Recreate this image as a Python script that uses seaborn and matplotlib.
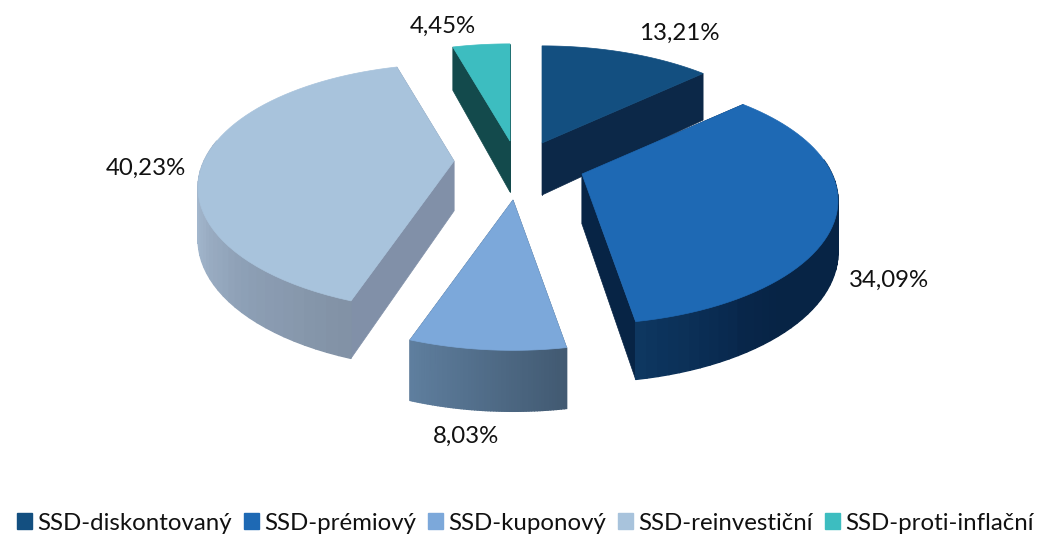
"""Exploded 3D pie of SSD bond types
"""

import numpy as np
import matplotlib.pyplot as plt
from matplotlib.patches import Patch
import seaborn as sns

# Chart data
categories = ["SSD-diskontovaný", "SSD-prémiový", "SSD-kuponový", "SSD-reinvestiční", "SSD-proti-inflační"]
shares = [13.21, 34.09, 8.03, 40.23, 4.45]
share_labels = ["13,21%", "34,09%", "8,03%", "40,23%", "4,45%"]

# Styles, one per slice
top_colors = ["#134f80", "#1e69b4", "#7ca8da", "#a8c3dc", "#3dbdc0"]
wall_stops = [
    ["#0c2848", "#0c2848"],
    ["#0e3862", "#08264a", "#072445", "#072445", "#072445", "#072445"],
    ["#5f7f9f", "#425a72"],
    ["#a6bad0", "#8d9fb5", "#7f8fa2"],
    ["#134a4c", "#134a4c"],
]
cut_colors = ["#0c2848", "#072445", "#425a72", "#8190a8", "#134a4c"]
apex_x = [542, 582, 513, 454, 510]
apex_y = [143, 174, 200, 161, 141]
wall_base = [52, 50, 53, 50, 51]
label_x = [679, 889, 466, 146, 443]
label_y = [33, 280, 436, 168, 26]
draw_order = [4, 0, 3, 1, 2]

# Perspective of the disk
RX, RY, PERSP = 250, 118, 0.215
WALL_DEPTH = 8

sns.set_theme(style="white")
plt.rcParams["font.family"] = ["Lato", "DejaVu Sans"]

fig = plt.figure(figsize=(10.37, 5.36), dpi=100)
ax = fig.add_axes([0, 0, 1, 1])
ax.set_xlim(0, 1037)
ax.set_ylim(536, 0)
ax.axis("off")


def project(angle):
    # angle clockwise from 12 o'clock, returns offset from the apex
    den = 1 + PERSP * np.cos(angle)
    return RX * np.sin(angle) / den, -RY * np.cos(angle) / den


edges = np.deg2rad(np.concatenate([[0], np.cumsum(shares)]) * 360 / sum(shares))

for i in draw_order:
    a0, a1 = edges[i], edges[i + 1]
    px, py = apex_x[i], apex_y[i]
    angles = np.linspace(a0, a1, 60)
    dx, dy = project(angles)
    xs, ys = px + dx, py + dy
    hs = wall_base[i] - WALL_DEPTH * np.cos(angles)

    # Radial cut faces
    for x, y, h in [(xs[0], ys[0], hs[0]), (xs[-1], ys[-1], hs[-1])]:
        ax.fill(
            [px, x, x, px],
            [py, y, y + h, py + wall_base[i]],
            color=cut_colors[i],
            lw=0.5,
        )

    # Outer wall with a left to right shade
    front = np.cos(angles) < 0.15 if i not in (0, 4) else np.zeros(len(angles), bool)
    shades = sns.blend_palette(wall_stops[i], n_colors=len(angles))
    for rank, k in enumerate(np.argsort(xs)):
        if k + 1 >= len(xs) or not front[k]:
            continue
        ax.fill(
            [xs[k], xs[k + 1], xs[k + 1], xs[k]],
            [ys[k], ys[k + 1], ys[k + 1] + hs[k + 1], ys[k] + hs[k]],
            color=shades[rank],
            lw=1.0,
        )

    # Top face
    ax.fill(np.r_[px, xs], np.r_[py, ys], color=top_colors[i], lw=0.5)

for x, y, text in zip(label_x, label_y, share_labels):
    ax.text(x, y, text, ha="center", va="center", fontsize=17.3, color="#111111")

handles = [Patch(color=c, label=name) for c, name in zip(top_colors, categories)]
ax.legend(
    handles=handles,
    loc="center",
    bbox_to_anchor=(0.5065, 0.024),
    ncol=5,
    frameon=False,
    fontsize=17.3,
    handlelength=0.62,
    handleheight=0.62,
    handletextpad=0.22,
    columnspacing=0.5,
    labelcolor="#111111",
)

plt.savefig("out.png", dpi=100)
